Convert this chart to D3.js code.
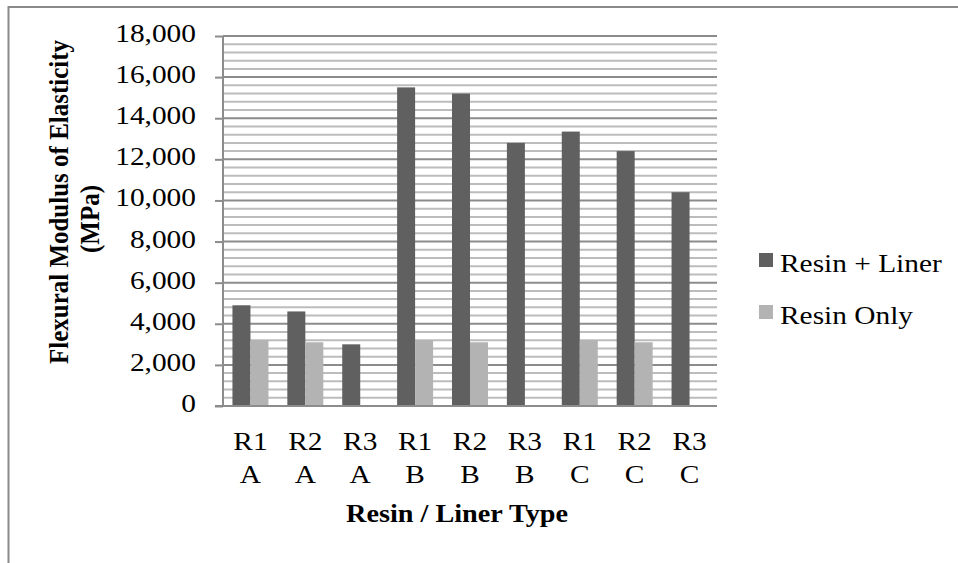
<!DOCTYPE html>
<html><head><meta charset="utf-8">
<script src="https://cdn.jsdelivr.net/npm/d3@7"></script>
<style>body{margin:0;background:#fff}svg{display:block}text{font-family:"Liberation Serif","Times New Roman",serif;fill:#000}</style>
</head><body>
<script>
const resinLabels = ["R1","R2","R3","R1","R2","R3","R1","R2","R3"];
const linerLabels = ["A","A","A","B","B","B","C","C","C"];
const seriesNames = ["Resin + Liner","Resin Only"];
const resinPlusLiner = [4900, 4600, 3000, 15500, 15200, 12800, 13350, 12400, 10400];
const resinOnly = [3200, 3100, null, 3200, 3100, null, 3200, 3100, null];
const yTicks = [0,2000,4000,6000,8000,10000,12000,14000,16000,18000];

const W=958,H=563,SX=1.13;
const svg=d3.select("body").append("svg").attr("width",W).attr("height",H);
svg.append("rect").attr("width",W).attr("height",H).attr("fill","#fff");
svg.append("rect").attr("x",8.5).attr("y",7).attr("width",W).attr("height",H).attr("fill","none").attr("stroke","#8a8a8a").attr("stroke-width",2);

const L=223,R=717,T=36,B=406;
const y=d3.scaleLinear().domain([0,18000]).range([B,T]);
const cats=d3.range(resinLabels.length);
const x=d3.scaleBand().domain(cats).range([L,R]).padding(0);
const xs=d3.scaleBand().domain(seriesNames).range([0,x.bandwidth()]).paddingInner(0).paddingOuter(0.525);
const colors={"Resin + Liner":"#606060","Resin Only":"#b3b3b3"};

function txt(g,xx,yy,s,opts={}){
  const t=g.append("text").attr("transform",`translate(${xx},${yy}) scale(${SX},1)${opts.rotate?" rotate(-90)":""}`)
    .attr("font-size",opts.size||26).attr("text-anchor",opts.anchor||"start").text(s);
  if(opts.bold) t.attr("font-weight","bold");
  return t;
}

// minor gridlines
const minor=d3.range(400,18000,400).filter(v=>v%2000!==0);
svg.append("g").selectAll("line").data(minor).join("line")
 .attr("x1",L).attr("x2",R).attr("y1",d=>y(d)).attr("y2",d=>y(d))
 .attr("stroke","#bcbcbc").attr("stroke-width",2);
// major gridlines
svg.append("g").selectAll("line").data(yTicks.filter(v=>v>0)).join("line")
 .attr("x1",L).attr("x2",R).attr("y1",d=>y(d)).attr("y2",d=>y(d))
 .attr("stroke","#8c8c8c").attr("stroke-width",2);

// bars
const data=[resinPlusLiner,resinOnly];
seriesNames.forEach((s,si)=>{
  svg.append("g").selectAll("rect").data(cats.filter(i=>data[si][i]!=null)).join("rect")
   .attr("x",i=>x(i)+xs(s)).attr("width",xs.bandwidth())
   .attr("y",i=>y(data[si][i])).attr("height",i=>B-y(data[si][i]))
   .attr("fill",colors[s]);
});

// y axis
const yAxis=d3.axisLeft(y).tickValues(yTicks).tickSize(8).tickFormat(()=>"");
const ga=svg.append("g").attr("transform",`translate(${L},0)`).call(yAxis);
ga.select(".domain").attr("stroke","#8c8c8c").attr("stroke-width",2).attr("d",`M0,${T}V${B}`);
ga.selectAll(".tick line").attr("stroke","#8c8c8c").attr("stroke-width",2);
const fmt=d3.format(",");
const yl=svg.append("g");
yTicks.forEach(v=>txt(yl,196,y(v)+6,fmt(v),{anchor:"end"}));
// baseline
svg.append("line").attr("x1",L-8).attr("x2",R).attr("y1",B).attr("y2",B).attr("stroke","#8c8c8c").attr("stroke-width",2);

// x labels
const xl=svg.append("g");
cats.forEach(i=>{
  const cx=x(i)+x.bandwidth()/2;
  txt(xl,cx,450,resinLabels[i],{anchor:"middle"});
  txt(xl,cx,483,linerLabels[i],{anchor:"middle"});
});

txt(svg,457,522,"Resin / Liner Type",{anchor:"middle",bold:true,size:25});

// y title
txt(svg,68,202,"Flexural Modulus of Elasticity",{anchor:"middle",bold:true,size:25,rotate:true});
txt(svg,99,219,"(MPa)",{anchor:"middle",bold:true,size:25,rotate:true});

// legend
const lg=svg.append("g");
seriesNames.forEach((s,i)=>{
  const yy=253+i*52;
  lg.append("rect").attr("x",759).attr("y",yy).attr("width",14).attr("height",14).attr("fill",colors[s]);
  txt(lg,780,yy+19,s);
});
</script>
</body></html>
